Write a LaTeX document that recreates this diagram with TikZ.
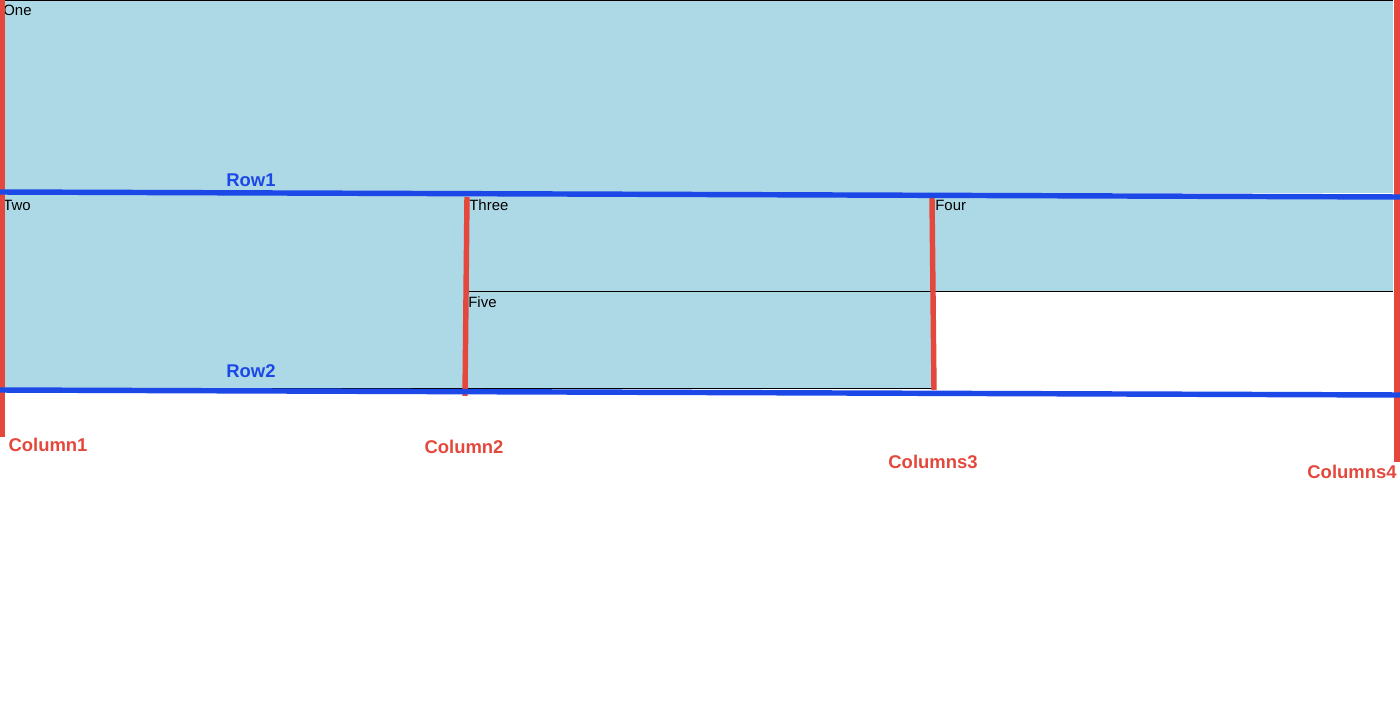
\documentclass[tikz,border=0pt]{standalone}
\usepackage{fontspec}
\setmainfont{Liberation Sans}
\definecolor{cellblue}{RGB}{173,216,230}
\definecolor{rowblue}{RGB}{27,72,230}
\definecolor{colred}{RGB}{228,72,60}
\tikzset{
  cell/.style={fill=cellblue, draw=none},
  celltext/.style={anchor=base west, inner sep=0pt, font=\fontsize{8.5}{10}\selectfont},
  rowline/.style={draw=rowblue, line width=3.1pt},
  colline/.style={draw=colred, line width=3.1pt},
  rowlabel/.style={text=rowblue, inner sep=0pt, anchor=base, font=\fontsize{10.5}{12}\selectfont\bfseries},
  collabel/.style={text=colred, inner sep=0pt, anchor=base, font=\fontsize{10.5}{12}\selectfont\bfseries},
  edge/.style={draw=black, line width=0.6pt}
}
\begin{document}
\begin{tikzpicture}[x=0.02cm, y=-0.02cm]
\useasboundingbox (0,0) rectangle (1400,713);
% cells
\fill[cell] (0,0) rectangle (1393,193);
\fill[cell] (0,193) rectangle (465,390);
\fill[cell] (465,195) rectangle (933,291);
\fill[cell] (465,292) rectangle (933,388);
\fill[cell] (933,195) rectangle (1393,291);
\draw[edge] (0,0.4) -- (1393,0.4);
\draw[edge] (465,291.5) -- (1393,291.5);
\draw[edge] (70,388.5) -- (933,388.5);
% cell texts
\node[celltext] (one) at (3,16) {One};
\node[celltext] (two) at (3,210) {Two};
\node[celltext] (three) at (469,210) {Three};
\node[celltext] (four) at (935,210) {Four};
\node[celltext] (five) at (468,307) {Five};
% grid lines
\coordinate (r1a) at (0,192);
\coordinate (r1b) at (1400,197);
\coordinate (r2a) at (0,390);
\coordinate (r2b) at (1400,395);
\coordinate (c1a) at (2.5,0);
\coordinate (c1b) at (2.5,437);
\coordinate (c2a) at (467,197);
\coordinate (c2b) at (465,396);
\coordinate (c3a) at (932,198);
\coordinate (c3b) at (934,390);
\coordinate (c4a) at (1397,0);
\coordinate (c4b) at (1397,462);
\draw[colline] (c1a) -- (c1b);
\draw[colline] (c2a) -- (c2b);
\draw[colline] (c3a) -- (c3b);
\draw[colline] (c4a) -- (c4b);
\draw[rowline] (r1a) -- (r1b);
\draw[rowline] (r2a) -- (r2b);
% labels
\node[rowlabel] (row1) at (251,187) {Row1};
\node[rowlabel] (row2) at (251,377) {Row2};
\node[collabel] (col1) at (48,451) {Column1};
\node[collabel] (col2) at (464,453) {Column2};
\node[collabel] (col3) at (933,468) {Columns3};
\node[collabel] (col4) at (1352,478) {Columns4};
\end{tikzpicture}
\end{document}
